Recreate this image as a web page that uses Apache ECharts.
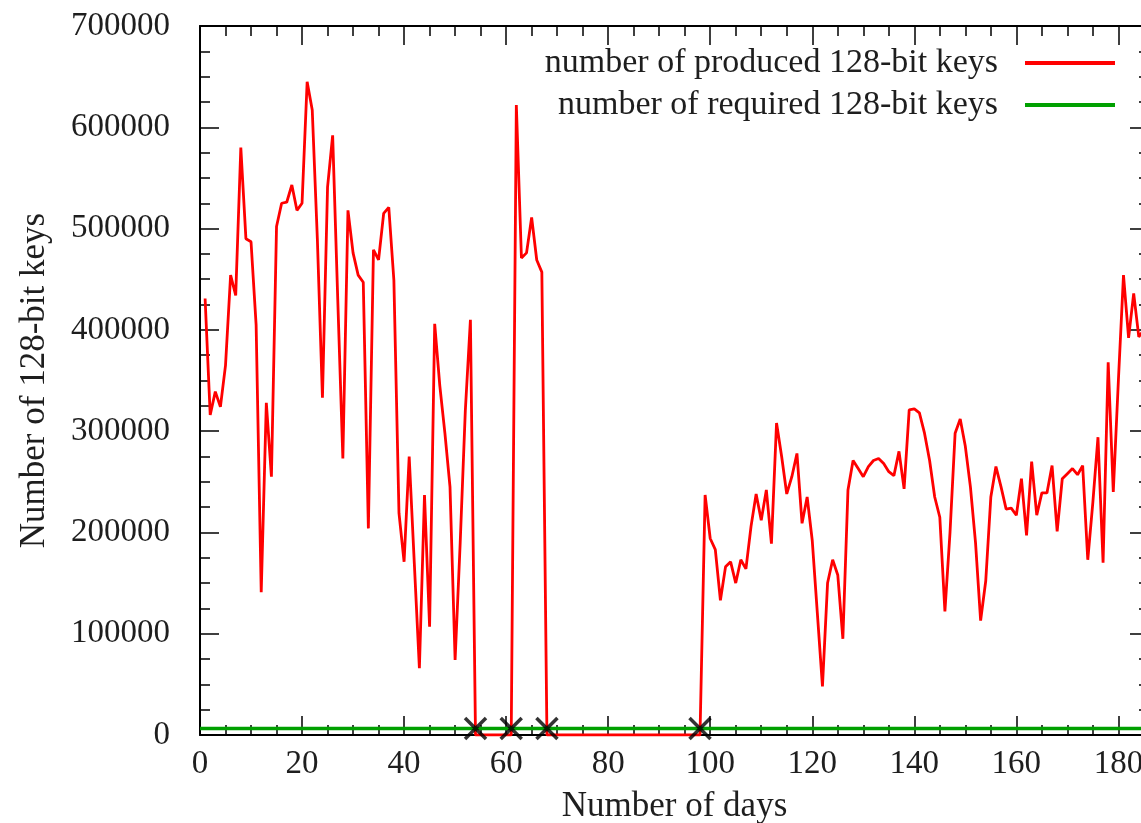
<!DOCTYPE html>
<html>
<head>
<meta charset="utf-8">
<script src="https://cdn.jsdelivr.net/npm/echarts@6/dist/echarts.min.js"></script>
<style>
  html, body { margin: 0; padding: 0; background: #fff; }
  #keysChart { width: 1141px; height: 823px; }
</style>
</head>
<body>
<div id="keysChart"></div>
<script>
  // values, one per day, first one is day 1
  var firstDay = 1
  var produced = [
    431000, 316000, 339000, 324000, 365000, 454000, 434000, 580000, 490000, 487000,
    405000, 141000, 328000, 255000, 502000, 525000, 526000, 543000, 518000, 525000,
    645000, 617000, 490000, 333000, 541000, 592000, 430000, 273000, 518000, 476000,
    454000, 447000, 204000, 479000, 469000, 515000, 521000, 449000, 219000, 171000,
    275000, 170000, 66000, 237000, 107000, 406000, 345000, 298000, 245000, 74000,
    190000, 320000, 410000, 0, 0, 0, 0, 0, 0, 0,
    0, 622000, 471000, 476000, 511000, 469000, 457000, 0, 0, 0,
    0, 0, 0, 0, 0, 0, 0, 0, 0, 0,
    0, 0, 0, 0, 0, 0, 0, 0, 0, 0,
    0, 0, 0, 0, 0, 0, 0, 0, 237000, 194000,
    183000, 133000, 166000, 171000, 150000, 173000, 164000, 206000, 238000, 212000,
    242000, 189000, 308000, 275000, 238000, 255000, 278000, 209000, 235000, 192000,
    120000, 48000, 150000, 173000, 158000, 95000, 242000, 271000, 263000, 255000,
    265000, 271000, 273000, 268000, 260000, 256000, 280000, 243000, 321000, 322000,
    318000, 298000, 271000, 235000, 215000, 122000, 200000, 298000, 312000, 285000,
    245000, 190000, 113000, 152000, 235000, 265000, 245000, 223000, 224000, 217000,
    253000, 197000, 270000, 217000, 239000, 239000, 266000, 201000, 253000, 258000,
    263000, 257000, 266000, 173000, 230000, 294000, 170000, 368000, 240000, 350000,
    454000, 392000, 436000, 393000, 400000
  ]
  var required = 6500
  // days marked with a cross
  var shortDays = [54, 61, 68, 98]

  var dayMax = 186
  var keysMax = 700000

  var serif = 'Liberation Serif'
  var ink = '#1e1e1e'

  var producedData = produced.map(function (v, i) { return [firstDay + i, v] })
  var requiredData = [[0, required], [dayMax, required]]
  var shortData = shortDays.map(function (d) { return [d, required] })

  // gnuplot style frame: ticks inside on all four sides
  function frameAxis (pos, max, interval, extra) {
    var a = {
      type: 'value',
      position: pos,
      min: 0,
      max: max,
      interval: interval,
      axisLine: { onZero: false, lineStyle: { color: '#000', width: 2 } },
      axisTick: { inside: true, length: 19, lineStyle: { color: '#000', width: 1.5 } },
      minorTick: { show: true, splitNumber: 4, length: 10, lineStyle: { color: '#000', width: 1.5 } },
      axisLabel: { show: false },
      splitLine: { show: false }
    }
    for (var k in extra) a[k] = extra[k]
    return a
  }

  var chart = echarts.init(document.getElementById('keysChart'))
  chart.setOption({
    animation: false,
    backgroundColor: '#fff',
    grid: { left: 200, top: 26, width: 949, height: 709, outerBoundsMode: 'none', containLabel: false },
    legend: {
      data: ['number of produced 128-bit keys', 'number of required 128-bit keys'],
      orient: 'vertical',
      right: 21,
      top: 40,
      align: 'right',
      icon: 'rect',
      itemWidth: 90,
      itemHeight: 4,
      itemGap: 6,
      textStyle: { fontFamily: serif, fontSize: 34, color: ink, lineHeight: 36, padding: [0, 22, 0, 0] }
    },
    xAxis: [
      frameAxis('bottom', dayMax, 20, {
        name: 'Number of days',
        nameLocation: 'middle',
        nameGap: 54,
        nameTextStyle: { fontFamily: serif, fontSize: 35, color: ink },
        axisLabel: { show: true, margin: 13, fontFamily: serif, fontSize: 33, color: ink, showMaxLabel: false }
      }),
      frameAxis('top', dayMax, 20, {})
    ],
    yAxis: [
      frameAxis('left', keysMax, 100000, {
        name: 'Number of 128-bit keys',
        nameLocation: 'middle',
        nameGap: 148,
        nameTextStyle: { fontFamily: serif, fontSize: 35, color: ink },
        axisLabel: {
          show: true, margin: 30, fontFamily: serif, fontSize: 33, color: ink,
          formatter: function (v) { return String(v) }
        }
      }),
      frameAxis('right', keysMax, 100000, {})
    ],
    series: [
      {
        name: 'number of produced 128-bit keys',
        type: 'line',
        data: producedData,
        showSymbol: false,
        color: '#ff0000',
        lineStyle: { color: '#ff0000', width: 2.8 }
      },
      {
        name: 'number of required 128-bit keys',
        type: 'line',
        data: requiredData,
        showSymbol: false,
        color: '#00a000',
        lineStyle: { color: '#00a000', width: 3.5 }
      },
      {
        name: 'short',
        type: 'scatter',
        data: shortData,
        symbol: 'path://M0,0L10,10M10,0L0,10',
        symbolSize: 21,
        itemStyle: { color: 'none', borderColor: '#000', borderWidth: 3.5 },
        z: 5
      }
    ]
  })
</script>
</body>
</html>
